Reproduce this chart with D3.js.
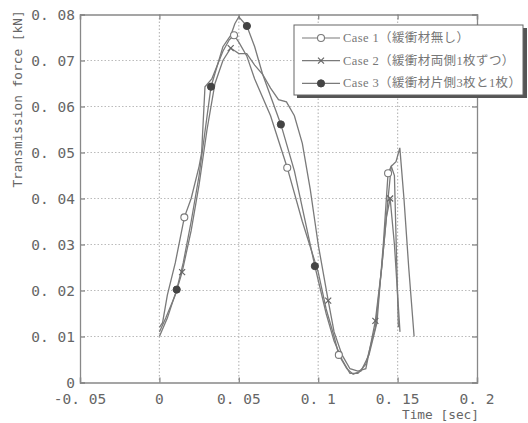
<!DOCTYPE html>
<html><head><meta charset="utf-8">
<script src="https://cdn.jsdelivr.net/npm/d3@7"></script>
<style>body{margin:0;background:#fff}svg{display:block}</style>
</head><body>
<script>
const xTicks = [-0.05, 0, 0.05, 0.1, 0.15, 0.2];
const xTickLabels = ["-0. 05", "0", "0. 05", "0. 1", "0. 15", "0. 2"];
const yTicks = [0, 0.01, 0.02, 0.03, 0.04, 0.05, 0.06, 0.07, 0.08];
const yTickLabels = ["0", "0. 01", "0. 02", "0. 03", "0. 04", "0. 05", "0. 06", "0. 07", "0. 08"];
const seriesNames = ["Case 1（緩衝材無し）", "Case 2（緩衝材両側1枚ずつ）", "Case 3（緩衝材片側3枚と1枚）"];

const case1T = [0,0.002,0.005,0.01,0.0157,0.02,0.025,0.0266,0.0287,0.033,0.04,0.044,0.047,0.05,0.055,0.06,0.07,0.0805,0.09,0.1,0.105,0.11,0.113,0.118,0.122,0.127,0.132,0.137,0.141,0.144,0.146,0.148,0.1505];
const case1V = [0.012,0.013,0.019,0.026,0.0359,0.040,0.047,0.050,0.0643,0.066,0.072,0.0745,0.0755,0.074,0.071,0.066,0.058,0.0467,0.035,0.024,0.016,0.010,0.006,0.003,0.0018,0.0025,0.006,0.013,0.030,0.0455,0.047,0.045,0.012];
const case1Marks = [4,12,17,22,29];

const case2T = [0,0.004,0.01,0.0143,0.02,0.025,0.03,0.035,0.04,0.0449,0.05,0.055,0.06,0.065,0.07,0.075,0.08,0.085,0.09,0.095,0.1,0.1063,0.11,0.115,0.12,0.125,0.13,0.136,0.14,0.143,0.1453,0.148,0.1515];
const case2V = [0.011,0.014,0.019,0.024,0.033,0.043,0.055,0.065,0.070,0.0727,0.0715,0.0715,0.069,0.067,0.064,0.0615,0.061,0.058,0.052,0.042,0.030,0.0178,0.011,0.006,0.003,0.0025,0.003,0.0134,0.025,0.036,0.040,0.030,0.011];
const case2Marks = [3,9,21,27,30];

const case3T = [0,0.005,0.0109,0.015,0.02,0.025,0.0325,0.04,0.045,0.0475,0.05,0.0551,0.06,0.065,0.0765,0.085,0.0979,0.105,0.11,0.115,0.12,0.125,0.13,0.136,0.14,0.144,0.146,0.149,0.1514,0.154,0.157,0.1604];
const case3V = [0.010,0.014,0.0202,0.026,0.035,0.045,0.0643,0.073,0.0755,0.078,0.0795,0.0775,0.073,0.067,0.0561,0.046,0.0253,0.015,0.009,0.005,0.002,0.002,0.004,0.012,0.025,0.040,0.047,0.048,0.051,0.040,0.025,0.010];
const case3Marks = [2,6,11,14,16];

const W = 528, H = 423;
const M = {l: 80, r: 477, t: 14.5, b: 382.5};
const svg = d3.select("body").append("svg").attr("width", W).attr("height", H);
const x = d3.scaleLinear().domain([-0.05, 0.2]).range([M.l, M.r]);
const y = d3.scaleLinear().domain([0, 0.08]).range([M.b, M.t]);
const axisCol = "#888", lineCol = "#7a7a7a", textCol = "#666";

// grid
const g = svg.append("g");
g.selectAll(".gx").data(xTicks.slice(1, -1)).join("line")
  .attr("x1", d => x(d)).attr("x2", d => x(d)).attr("y1", M.t).attr("y2", M.b)
  .attr("stroke", "#bbb").attr("stroke-width", 1.2).attr("stroke-dasharray", "1.5,2");
g.selectAll(".gy").data(yTicks.slice(1, -1)).join("line")
  .attr("y1", d => y(d)).attr("y2", d => y(d)).attr("x1", M.l).attr("x2", M.r)
  .attr("stroke", "#bbb").attr("stroke-width", 1.2).attr("stroke-dasharray", "1.5,2");

// axes (box with inward ticks)
const xb = d3.axisBottom(x).tickValues(xTicks).tickSize(-5).tickFormat("");
const xt = d3.axisTop(x).tickValues(xTicks).tickSize(-5).tickFormat("");
const yl = d3.axisLeft(y).tickValues(yTicks).tickSize(-5).tickFormat("");
const yr = d3.axisRight(y).tickValues(yTicks).tickSize(-5).tickFormat("");
[[xb, `translate(0,${M.b})`], [xt, `translate(0,${M.t})`], [yl, `translate(${M.l},0)`], [yr, `translate(${M.r},0)`]].forEach(([a, tr]) => {
  const ga = svg.append("g").attr("transform", tr).call(a);
  ga.selectAll("path,line").attr("stroke", axisCol).attr("stroke-width", 1.3);
});

// tick labels
const font = "'DejaVu Sans Mono', 'Liberation Mono', monospace";
svg.append("g").selectAll("text").data(xTicks).join("text")
  .attr("x", d => x(d)).attr("y", 404).attr("text-anchor", "middle")
  .attr("font-family", font).attr("font-size", 14.5).attr("fill", textCol)
  .text((d, i) => xTickLabels[i]);
svg.append("g").selectAll("text").data(yTicks).join("text")
  .attr("x", 75).attr("y", d => y(d) + 5).attr("text-anchor", "end")
  .attr("font-family", font).attr("font-size", 14.5).attr("fill", textCol)
  .text((d, i) => yTickLabels[i]);

svg.append("text").attr("transform", "translate(22,99) rotate(-90)")
  .attr("text-anchor", "middle").attr("font-family", font).attr("font-size", 12.8)
  .attr("fill", textCol).text("Transmission force [kN]");
svg.append("text").attr("x", 479).attr("y", 419).attr("text-anchor", "end")
  .attr("font-family", font).attr("font-size", 12.8).attr("fill", textCol).text("Time [sec]");

// lines
const line = d3.line().x(d => x(d[0])).y(d => y(d[1]));
const series = [
  {T: case1T, V: case1V, marks: case1Marks, type: "circle"},
  {T: case2T, V: case2V, marks: case2Marks, type: "x"},
  {T: case3T, V: case3V, marks: case3Marks, type: "dot"}
];
function drawMarker(sel, type, cx, cy) {
  if (type === "circle") sel.append("circle").attr("cx", cx).attr("cy", cy).attr("r", 3.5)
    .attr("fill", "#fff").attr("stroke", lineCol).attr("stroke-width", 1.1);
  else if (type === "dot") sel.append("circle").attr("cx", cx).attr("cy", cy).attr("r", 3.6)
    .attr("fill", "#444").attr("stroke", "#444");
  else sel.append("path").attr("d", `M${cx-3},${cy-3}L${cx+3},${cy+3}M${cx-3},${cy+3}L${cx+3},${cy-3}`)
    .attr("stroke", "#666").attr("stroke-width", 1.2);
}
const pg = svg.append("g");
series.forEach(s => {
  const pts = s.T.map((t, i) => [t, s.V[i]]);
  pg.append("path").datum(pts).attr("d", line).attr("fill", "none")
    .attr("stroke", lineCol).attr("stroke-width", 1.3);
});
series.forEach(s => {
  s.marks.forEach(i => drawMarker(pg, s.type, x(s.T[i]), y(s.V[i])));
});

// legend
const lg = svg.append("g");
lg.append("rect").attr("x", 297).attr("y", 28).attr("width", 230).attr("height", 70).attr("fill", "#555");
lg.append("rect").attr("x", 294).attr("y", 25).attr("width", 229).attr("height", 70)
  .attr("fill", "#fff").attr("stroke", "#666").attr("stroke-width", 1);
seriesNames.forEach((name, i) => {
  const yy = 38 + i * 22.7;
  lg.append("line").attr("x1", 302).attr("x2", 340).attr("y1", yy).attr("y2", yy)
    .attr("stroke", lineCol).attr("stroke-width", 1.2);
  drawMarker(lg, series[i].type, 321, yy);
  lg.append("text").attr("x", 343).attr("y", yy + 4).attr("font-family", "'Liberation Serif', 'Noto Sans CJK JP', serif")
    .attr("font-size", 12.5).attr("letter-spacing", 0.4).attr("fill", "#777").text(name);
});
</script>
</body></html>
